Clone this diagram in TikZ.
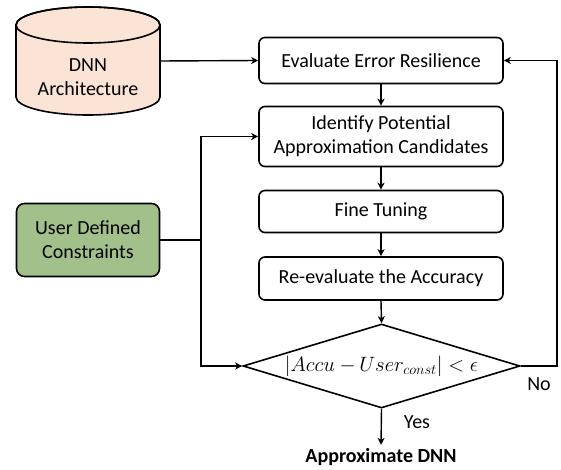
\documentclass[tikz,border=0pt]{standalone}
\usepackage{amsmath}
\usepackage{fontspec}
\setmainfont{Carlito}
\usetikzlibrary{arrows.meta,shapes.geometric}
\definecolor{cylfill}{HTML}{FBE3D6}
\definecolor{userfill}{HTML}{A2C18A}
\begin{document}
\begin{tikzpicture}[x=1pt,y=-1pt,
  every node/.style={font=\fontsize{20}{23}\selectfont},
  procbox/.style={draw, line width=1.6pt, rounded corners=6pt, minimum width=244pt, align=center, inner sep=0pt},
  conn/.style={line width=1.4pt, -{Stealth[length=7pt,width=7pt,inset=2pt]}},
  plain/.style={line width=1.4pt}]
\useasboundingbox (0,0) rectangle (561,470);
% cylinder
\filldraw[fill=cylfill, line width=1.6pt]
  (16,25) -- (16,97) arc[start angle=180,end angle=0,x radius=72,y radius=18]
  -- (160,25) arc[start angle=0,end angle=-180,x radius=72,y radius=18] -- cycle;
\draw[line width=1.6pt] (88,25) ellipse[x radius=72,y radius=18];
\node[align=center, minimum width=144pt, minimum height=60pt, inner sep=0pt] (dnn) at (88,77) {DNN\\[1pt]Architecture};
\coordinate (dnnr) at (160,61);
% user
\node[draw, fill=userfill, line width=1.6pt, rounded corners=8pt, minimum width=143pt, minimum height=73pt, align=center, inner sep=0pt] (user) at (88,240) {User Defined\\[1pt]Constraints};
% boxes
\node[procbox, minimum height=46pt] (eval) at (381,60.5) {Evaluate Error Resilience};
\node[procbox, minimum height=60pt] (ident) at (381,136.5) {Identify Potential\\[1pt]Approximation Candidates};
\node[procbox, minimum height=42pt] (fine) at (381,211.5) {Fine Tuning};
\node[procbox, minimum height=43pt] (reeval) at (381,278.5) {Re-evaluate the Accuracy};
\node[diamond, draw, line width=1.6pt, minimum width=277pt, minimum height=84pt, inner sep=0pt, aspect=3.3] (dec) at (381.5,366) {};
\node[font=\fontsize{21}{24}\selectfont] at (dec.center) {$|Accu\ \mathbf{-}\,User_{const}| < \epsilon$};
\node[font=\bfseries\fontsize{20}{23}\selectfont] (out) at (381,457) {Approximate DNN};
\node (yes) at (417,422) {Yes};
\node (no) at (539,384) {No};
% connectors
\draw[conn] (dnnr) -- (eval.west);
\draw[conn] (eval.south) -- (ident.north);
\draw[conn] (ident.south) -- (fine.north);
\draw[conn] (fine.south) -- (reeval.north);
\draw[conn] (reeval.south) -- (dec.north);
\draw[conn] (dec.south) -- (out.north);
\coordinate (bus) at (201,240);
\draw[plain] (user.east) -- (bus);
\draw[conn] (bus) -- (201,136.5) -- (ident.west);
\draw[conn] (bus) -- (201,366) -- (dec.west);
\draw[conn] (dec.east) -- (557,366) -- (557,60.5) -- (eval.east);
\end{tikzpicture}
\end{document}
